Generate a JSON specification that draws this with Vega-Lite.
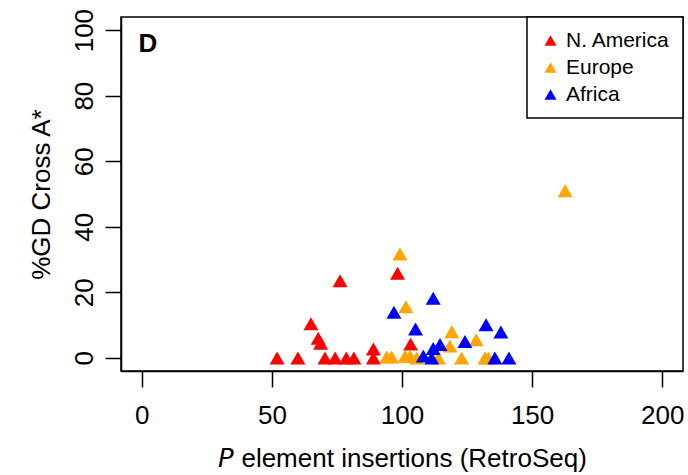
{
  "$schema": "https://vega.github.io/schema/vega-lite/v6.json",
  "width": 562,
  "height": 354,
  "autosize": {"type": "none"},
  "padding": {"left": 121, "top": 17, "right": 5, "bottom": 104},
  "background": "white",
  "config": {
    "font": "Liberation Sans",
    "view": {"stroke": "black", "strokeWidth": 1.5},
    "axis": {
      "labelFont": "Liberation Sans",
      "titleFont": "Liberation Sans",
      "labelFontSize": 26,
      "titleFontSize": 26,
      "labelColor": "black",
      "titleColor": "black",
      "titleFontWeight": "normal",
      "tickColor": "black",
      "tickWidth": 1.5,
      "tickSize": 16,
      "domainColor": "black",
      "domainWidth": 1.5,
      "grid": false
    },
    "legend": {
      "orient": "top-right",
      "offset": 0,
      "strokeColor": "black",
      "strokeWidth": 1.5,
      "fillColor": "white",
      "padding": 13,
      "labelFont": "Liberation Sans",
      "labelFontSize": 21,
      "labelColor": "black",
      "symbolType": "triangle-up",
      "symbolSize": 144,
      "symbolOpacity": 1,
      "symbolStrokeWidth": 0,
      "rowPadding": 5,
      "labelOffset": 5
    }
  },
  "layer": [
    {
      "data": {
        "values": [
          {"insertions": 52.0, "gd": 0, "region": "N. America"},
          {"insertions": 60.0, "gd": 0, "region": "N. America"},
          {"insertions": 65.0, "gd": 10.4, "region": "N. America"},
          {"insertions": 67.8, "gd": 6.0, "region": "N. America"},
          {"insertions": 68.7, "gd": 4.5, "region": "N. America"},
          {"insertions": 70.4, "gd": 0, "region": "N. America"},
          {"insertions": 74.3, "gd": 0, "region": "N. America"},
          {"insertions": 76.2, "gd": 23.5, "region": "N. America"},
          {"insertions": 78.6, "gd": 0, "region": "N. America"},
          {"insertions": 81.5, "gd": 0, "region": "N. America"},
          {"insertions": 89.0, "gd": 2.7, "region": "N. America"},
          {"insertions": 89.0, "gd": 0, "region": "N. America"},
          {"insertions": 98.3, "gd": 25.8, "region": "N. America"},
          {"insertions": 103.3, "gd": 4.2, "region": "N. America"},
          {"insertions": 94.1, "gd": 0.3, "region": "Europe"},
          {"insertions": 96.0, "gd": 0.3, "region": "Europe"},
          {"insertions": 99.2, "gd": 31.7, "region": "Europe"},
          {"insertions": 101.5, "gd": 15.6, "region": "Europe"},
          {"insertions": 101.2, "gd": 0.5, "region": "Europe"},
          {"insertions": 103.1, "gd": 0.5, "region": "Europe"},
          {"insertions": 105.7, "gd": 0, "region": "Europe"},
          {"insertions": 114.0, "gd": 0, "region": "Europe"},
          {"insertions": 118.4, "gd": 3.6, "region": "Europe"},
          {"insertions": 119.1, "gd": 8.0, "region": "Europe"},
          {"insertions": 122.9, "gd": 0, "region": "Europe"},
          {"insertions": 128.5, "gd": 5.5, "region": "Europe"},
          {"insertions": 131.9, "gd": 0, "region": "Europe"},
          {"insertions": 133.2, "gd": 0, "region": "Europe"},
          {"insertions": 162.7, "gd": 51.0, "region": "Europe"},
          {"insertions": 96.9, "gd": 13.9, "region": "Africa"},
          {"insertions": 105.2, "gd": 8.8, "region": "Africa"},
          {"insertions": 108.2, "gd": 0.6, "region": "Africa"},
          {"insertions": 111.4, "gd": 0, "region": "Africa"},
          {"insertions": 112.0, "gd": 2.9, "region": "Africa"},
          {"insertions": 112.0, "gd": 18.2, "region": "Africa"},
          {"insertions": 114.6, "gd": 4.1, "region": "Africa"},
          {"insertions": 124.2, "gd": 5.0, "region": "Africa"},
          {"insertions": 132.3, "gd": 10.1, "region": "Africa"},
          {"insertions": 135.7, "gd": 0, "region": "Africa"},
          {"insertions": 138.0, "gd": 7.9, "region": "Africa"},
          {"insertions": 141.1, "gd": 0, "region": "Africa"}
        ]
      },
      "mark": {"type": "point", "shape": "triangle-up", "filled": true, "size": 225, "opacity": 1},
      "encoding": {
        "x": {
          "field": "insertions",
          "type": "quantitative",
          "scale": {"domain": [-8, 208], "nice": false, "zero": false},
          "axis": {
            "values": [0, 50, 100, 150, 200],
            "title": "𝘗 element insertions (RetroSeq)",
            "labelPadding": 15,
            "titlePadding": 17,
            "labelFlush": false
          }
        },
        "y": {
          "field": "gd",
          "type": "quantitative",
          "scale": {"domain": [-4, 104], "nice": false, "zero": false},
          "axis": {
            "values": [0, 20, 40, 60, 80, 100],
            "title": "%GD Cross A*",
            "labelAngle": -90,
            "labelAlign": "center",
            "labelBaseline": "bottom",
            "labelPadding": 8,
            "titlePadding": 17,
            "labelFlush": false
          }
        },
        "color": {
          "field": "region",
          "type": "nominal",
          "scale": {"domain": ["N. America", "Europe", "Africa"], "range": ["#FF0000", "#FFA500", "#0000FF"]},
          "legend": {"title": null}
        }
      }
    },
    {
      "data": {"values": [{"label": "D"}]},
      "mark": {"type": "text", "fontWeight": "bold", "fontSize": 26, "align": "left", "baseline": "alphabetic", "font": "Liberation Sans", "color": "black"},
      "encoding": {
        "x": {"datum": -1.3, "type": "quantitative"},
        "y": {"datum": 93.4, "type": "quantitative"},
        "text": {"field": "label"}
      }
    }
  ]
}
